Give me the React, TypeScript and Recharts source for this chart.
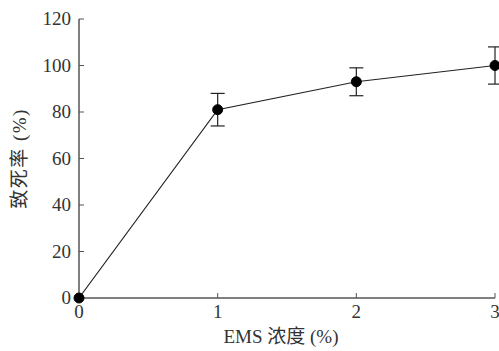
import { LineChart, Line, XAxis, YAxis, ErrorBar } from 'recharts';

const concentrations = [0, 1, 2, 3];
const mortality = [0, 81, 93, 100];
const mortalityErr = [0, 7, 6, 8];
const xTicks = [0, 1, 2, 3];
const yTicks = [0, 20, 40, 60, 80, 100, 120];

const data = concentrations.map((c, i) => ({
  x: c,
  y: mortality[i],
  err: mortalityErr[i],
}));

const serif = '"Liberation Serif", "Noto Sans CJK SC", serif';
const textColor = '#333';

// tick labels drawn by hand so the font size sticks
const XTick = (props: any) => {
  const { x, y, payload } = props;
  return (
    <text x={x} y={y} dy={15} textAnchor="middle" fontSize={19} fontFamily={serif} fill={textColor}>
      {payload.value}
    </text>
  );
};

const YTick = (props: any) => {
  const { x, y, payload } = props;
  return (
    <text x={x} y={y} dy={6} textAnchor="end" fontSize={19} fontFamily={serif} fill={textColor}>
      {payload.value}
    </text>
  );
};

export default function App() {
  return (
    <div style={{ position: 'absolute', left: 0, top: 0, background: '#fff' }}>
      <LineChart
        width={499}
        height={351}
        data={data}
        margin={{ top: 19, right: 4, left: 44, bottom: 23 }}
      >
        <XAxis
          dataKey="x"
          type="number"
          domain={[0, 3]}
          ticks={xTicks}
          height={30}
          tick={<XTick />}
          tickSize={-5}
          tickMargin={10}
          axisLine={{ stroke: '#555', strokeWidth: 1.5 }}
          tickLine={{ stroke: '#555', strokeWidth: 1 }}
          label={{
            value: 'EMS 浓度 (%)',
            position: 'insideBottom',
            offset: -15,
            dx: -6,
            style: { fontSize: 19, fill: textColor, fontFamily: serif },
          }}
        />
        <YAxis
          type="number"
          domain={[0, 120]}
          ticks={yTicks}
          width={35}
          tick={<YTick />}
          tickSize={-5}
          tickMargin={13}
          axisLine={{ stroke: '#555', strokeWidth: 1.5 }}
          tickLine={{ stroke: '#555', strokeWidth: 1 }}
          label={{
            value: '致死率 (%)',
            angle: -90,
            position: 'insideLeft',
            offset: -25,
            style: { fontSize: 19, letterSpacing: 1.5, fill: textColor, fontFamily: serif, textAnchor: 'middle' },
          }}
        />
        <Line
          dataKey="y"
          type="linear"
          stroke="#222"
          strokeWidth={1.2}
          dot={{ r: 5, fill: '#000', stroke: '#000', strokeWidth: 1 }}
          isAnimationActive={false}
        >
          <ErrorBar dataKey="err" width={7} stroke="#222" strokeWidth={1.2} isAnimationActive={false} />
        </Line>
      </LineChart>
    </div>
  );
}
